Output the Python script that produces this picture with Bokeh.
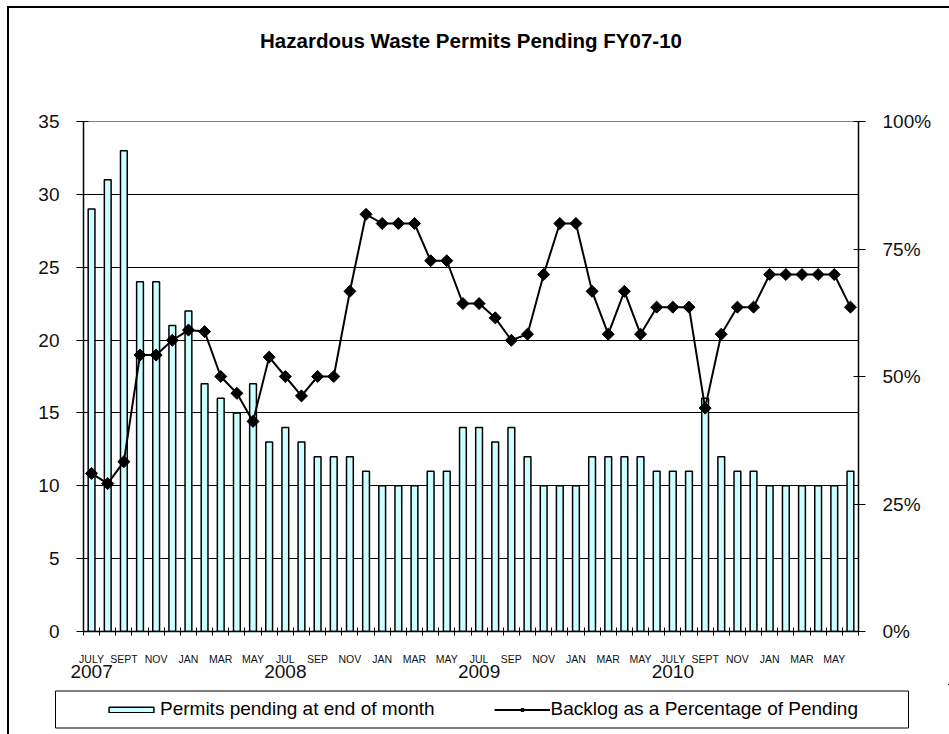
import numpy as np
from bokeh.plotting import figure
from bokeh.layouts import column
from bokeh.models import (Range1d, LinearAxis, FixedTicker, Legend, LegendItem,
                          ColumnDataSource, PrintfTickFormatter, InlineStyleSheet,
                          BoxAnnotation)
from bokeh.embed import file_html
from bokeh.resources import INLINE

# ---------------- data ----------------
title_text = "Hazardous Waste Permits Pending FY07-10"
bar_label = "Permits pending at end of month"
line_label = "Backlog as a Percentage of Pending"

# permits pending at end of month, July 2007 .. June 2011
pending = [29, 31, 33, 24, 24, 21, 22, 17, 16, 15, 17, 13,
           14, 13, 12, 12, 12, 11, 10, 10, 10, 11, 11, 14,
           14, 13, 14, 12, 10, 10, 10, 12, 12, 12, 12, 11,
           11, 11, 16, 12, 11, 11, 10, 10, 10, 10, 10, 11]

# backlog as a percentage of pending
backlog_pct = [31.0, 29.0, 33.3, 54.2, 54.2, 57.1, 59.1, 58.8, 50.0, 46.7, 41.2, 53.8,
               50.0, 46.2, 50.0, 50.0, 66.7, 81.8, 80.0, 80.0, 80.0, 72.7, 72.7, 64.3,
               64.3, 61.5, 57.1, 58.3, 70.0, 80.0, 80.0, 66.7, 58.3, 66.7, 58.3, 63.6,
               63.6, 63.6, 43.8, 58.3, 63.6, 63.6, 70.0, 70.0, 70.0, 70.0, 70.0, 63.6]

# tick labels: every second month, and the year under each July
month_labels = ["JULY", "SEPT", "NOV", "JAN", "MAR", "MAY",
                "JUL", "SEP", "NOV", "JAN", "MAR", "MAY",
                "JUL", "SEP", "NOV", "JAN", "MAR", "MAY",
                "JULY", "SEPT", "NOV", "JAN", "MAR", "MAY"]
year_labels = ["2007", "2008", "2009", "2010"]

left_ticks = [0, 5, 10, 15, 20, 25, 30, 35]
right_ticks = [0, 25, 50, 75, 100]

FONT = "Liberation Sans"
BAR_FILL = "#CCFFFF"

# ---------------- main figure ----------------
n = len(pending)
xc = np.arange(n) + 0.5
src = ColumnDataSource(dict(x=xc, pending=pending, pct=backlog_pct))

border_top_left = InlineStyleSheet(css="""
:host::after {
  content: ""; position: absolute; left: 7px; top: 6px; right: 0; bottom: 0;
  border-left: 2px solid #000; border-top: 2px solid #000;
  pointer-events: none; z-index: 10;
}
""")
border_left = InlineStyleSheet(css="""
:host::after {
  content: ""; position: absolute; left: 7px; top: 0; right: 0; bottom: 0;
  border-left: 2px solid #000;
  pointer-events: none; z-index: 10;
}
""")

p = figure(width=949, height=684, output_backend="svg", toolbar_location=None,
           x_range=Range1d(0, n), y_range=Range1d(0, 35),
           min_border_left=83, min_border_right=91, min_border_top=121,
           min_border_bottom=53, background_fill_color="white",
           border_fill_color="white", stylesheets=[border_top_left])
p.extra_y_ranges = {"pct": Range1d(0, 100)}
p.outline_line_color = "#808080"
p.outline_line_width = 1

xa = p.below[0]   # the month axis
ya = p.left[0]    # the count axis

# grid
p.xgrid.visible = False
p.ygrid.ticker = FixedTicker(ticks=left_ticks[1:-1])
p.ygrid.grid_line_color = "black"
p.ygrid.grid_line_width = 1

# bars
bars = p.vbar(x="x", top="pending", width=0.42, source=src,
              fill_color=BAR_FILL, line_color="black", line_width=1.5)

# line + markers
p.line(x="x", y="pct", source=src, y_range_name="pct",
       line_color="black", line_width=2)
p.scatter(x="x", y="pct", source=src, y_range_name="pct",
          marker="square", angle=np.pi / 4, size=8.5,
          fill_color="black", line_color="black")

# left axis
ya.ticker = FixedTicker(ticks=left_ticks)
ya.major_label_text_font_size = "19px"
ya.major_label_text_font = FONT
ya.major_label_text_color = "#111111"
ya.major_label_standoff = 17
ya.major_tick_in = 5
ya.major_tick_out = 7
ya.minor_tick_line_color = None
ya.axis_line_color = "black"
ya.axis_line_width = 1.5

# right axis
ra = LinearAxis(y_range_name="pct", ticker=FixedTicker(ticks=right_ticks),
                formatter=PrintfTickFormatter(format="%d%%"))
ra.major_label_text_font_size = "19px"
ra.major_label_text_font = FONT
ra.major_label_text_color = "#111111"
ra.major_label_standoff = 17
ra.major_tick_in = 5
ra.major_tick_out = 7
ra.minor_tick_line_color = None
ra.axis_line_color = "black"
ra.axis_line_width = 1.5
p.add_layout(ra, "right")

# bottom axis: month labels, tick marks at month boundaries
label_pos = [float(xc[i]) for i in range(0, n, 2)]
xa.ticker = FixedTicker(ticks=label_pos, minor_ticks=list(range(n + 1)))
xa.major_label_overrides = {pos: lab for pos, lab in zip(label_pos, month_labels)}
xa.major_label_text_font_size = "10.5px"
xa.major_label_text_font = FONT
xa.major_label_text_color = "#111111"
xa.major_tick_line_color = None
xa.major_tick_in = 0
xa.major_tick_out = 0
xa.minor_tick_in = 4
xa.minor_tick_out = 4
xa.minor_tick_line_color = "black"
xa.major_label_standoff = 17
xa.axis_line_color = "black"
xa.axis_line_width = 1.5


def bare_axis(positions, labels, size, standoff, bold=False):
    ax = LinearAxis(ticker=FixedTicker(ticks=positions, minor_ticks=[]))
    ax.major_label_overrides = {pos: lab for pos, lab in zip(positions, labels)}
    ax.major_label_text_font = FONT
    ax.major_label_text_font_size = size
    ax.major_label_text_font_style = "bold" if bold else "normal"
    ax.major_label_text_color = "black" if bold else "#111111"
    ax.axis_line_color = None
    ax.major_tick_line_color = None
    ax.minor_tick_line_color = None
    ax.major_tick_in = 0
    ax.major_tick_out = 0
    ax.minor_tick_in = 0
    ax.minor_tick_out = 0
    ax.major_label_standoff = standoff
    return ax


# year labels under the first month of each year
year_pos = [float(xc[12 * k]) for k in range(len(year_labels))]
p.add_layout(bare_axis(year_pos, year_labels, "19px", -3), "below")

# title, centred above the frame
p.add_layout(bare_axis([n / 2], [title_text], "20.5px", 70, bold=True), "above")

# ---------------- legend strip ----------------
lf = figure(width=949, height=50, output_backend="svg", toolbar_location=None,
            x_range=Range1d(-2, -1), y_range=Range1d(-2, -1),
            x_axis_location=None, y_axis_location=None,
            min_border=0, min_border_left=0, min_border_right=0,
            min_border_top=0, min_border_bottom=0,
            background_fill_color="white", border_fill_color="white",
            stylesheets=[border_left])
for fig in (p, lf):
    try:
        fig.frame_align = False
    except Exception:
        pass
lf.outline_line_color = None
lf.xgrid.visible = False
lf.ygrid.visible = False

# legend frame
lf.add_layout(BoxAnnotation(left=55, right=908, top=43.5, bottom=6.5,
                            left_units="screen", right_units="screen",
                            top_units="screen", bottom_units="screen",
                            fill_color="white", fill_alpha=1,
                            line_color="black", line_alpha=1, line_width=1))

# legend keys styled like the chart's series (their data lie outside this strip's range)
key_bar = lf.vbar(x="x", top="pending", width=0.4, source=src, fill_color=BAR_FILL,
                  line_color="black", line_width=1.5)
key_line = lf.line(x="x", y="pct", source=src, line_color="black", line_width=2)
key_mark = lf.scatter(x="x", y="pct", source=src, marker="square", angle=np.pi / 4,
                      size=8.5, fill_color="black", line_color="black")

legend = Legend(items=[LegendItem(label=bar_label, renderers=[key_bar]),
                       LegendItem(label=line_label, renderers=[key_line, key_mark])],
                orientation="horizontal", location=(103, 14),
                glyph_width=56, glyph_height=7, label_standoff=1, spacing=59,
                padding=7, margin=0,
                label_text_font=FONT, label_text_font_size="19px",
                label_text_color="black",
                border_line_color=None,
                background_fill_alpha=0)
lf.add_layout(legend)

layout = column(p, lf, spacing=0)
open("out.html", "w").write(file_html(layout, INLINE))
